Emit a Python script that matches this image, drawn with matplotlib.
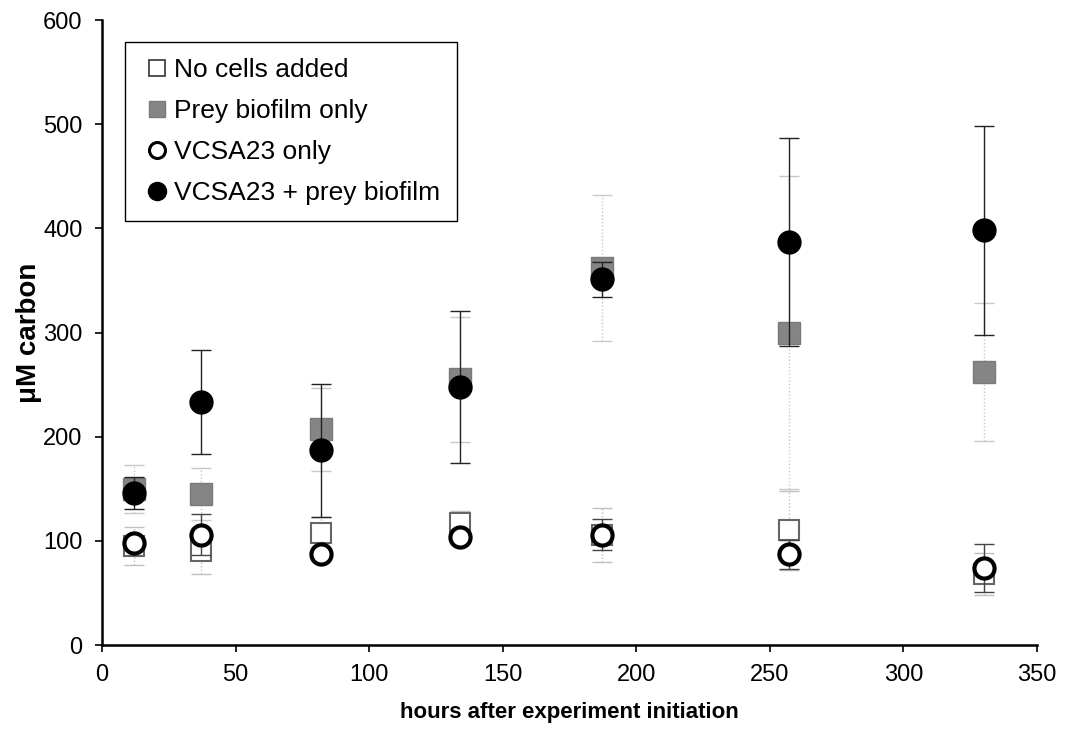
import matplotlib
matplotlib.use("Agg")
import matplotlib.pyplot as plt
from matplotlib.lines import Line2D

plt.rcParams['font.family'] = ['Liberation Sans', 'DejaVu Sans']

hours = [12, 37, 82, 134, 187, 257, 330]

no_cells = [95, 90, 108, 117, 106, 110, 68]
no_cells_err = [18, 22, 15, 12, 26, 38, 20]

prey_only = [150, 145, 207, 255, 362, 300, 262]
prey_only_err = [23, 25, 40, 60, 70, 150, 66]

vcsa_only = [98, 106, 87, 104, 106, 87, 74]
vcsa_only_err = [6, 20, 5, 6, 15, 14, 23]

vcsa_prey = [146, 233, 187, 248, 351, 387, 398]
vcsa_prey_err = [15, 50, 64, 73, 17, 100, 100]

labels = ["No cells added", "Prey biofilm only", "VCSA23 only", "VCSA23 + prey biofilm"]
x_ticks = [0, 50, 100, 150, 200, 250, 300, 350]
y_ticks = [0, 100, 200, 300, 400, 500, 600]

fig = plt.figure(figsize=(10.68, 7.36), dpi=100)
ax = fig.add_axes([0.0955, 0.1236, 0.8755, 0.8492])

def draw(y, err, ecolor, dotted, marker, ms, mfc, mec, mew, z):
    eb = ax.errorbar(hours, y, yerr=err, fmt='none', ecolor=ecolor,
                     elinewidth=1.0, capsize=7, capthick=1.0, zorder=z)
    if dotted:
        for lc in eb[2]:
            lc.set_linestyle((0, (1, 1.5)))
    ax.plot(hours, y, linestyle='none', marker=marker, markersize=ms,
            markerfacecolor=mfc, markeredgecolor=mec, markeredgewidth=mew,
            zorder=z + 0.5)

draw(no_cells, no_cells_err, '#c0c0c0', True, 's', 14.5, 'white', '#666666', 1.5, 2)
draw(prey_only, prey_only_err, '#c8c8c8', True, 's', 15.5, '#858585', '#7a7a7a', 1.0, 3)
draw(vcsa_only, vcsa_only_err, '#444444', False, 'o', 14.5, 'white', 'black', 3.0, 4)
draw(vcsa_prey, vcsa_prey_err, '#222222', False, 'o', 16.5, 'black', 'black', 1.0, 5)

ax.set_xlim(0, 350)
ax.set_ylim(0, 600)
ax.set_xticks(x_ticks)
ax.set_yticks(y_ticks)
ax.tick_params(axis='both', direction='out', length=5, width=1.2, labelsize=17, colors='black')
ax.tick_params(axis='x', pad=9)
ax.tick_params(axis='y', pad=9)
for s in ['top', 'right']:
    ax.spines[s].set_visible(False)
for s in ['left', 'bottom']:
    ax.spines[s].set_linewidth(1.8)
    ax.spines[s].set_color('black')

ax.set_xlabel("hours after experiment initiation", fontsize=16, fontweight='bold', labelpad=11)
ax.set_ylabel("μM carbon", fontsize=20, fontweight='bold', labelpad=1)

handles = [
    Line2D([], [], linestyle='none', marker='s', markersize=12, markerfacecolor='white', markeredgecolor='#333333', markeredgewidth=1.2),
    Line2D([], [], linestyle='none', marker='s', markersize=12, markerfacecolor='#858585', markeredgecolor='#7a7a7a', markeredgewidth=1.0),
    Line2D([], [], linestyle='none', marker='o', markersize=11.5, markerfacecolor='white', markeredgecolor='black', markeredgewidth=2.2),
    Line2D([], [], linestyle='none', marker='o', markersize=13, markerfacecolor='black', markeredgecolor='black'),
]
leg = ax.legend(handles, labels, loc='upper left', bbox_to_anchor=(0.0246, 0.965),
                borderaxespad=0, fontsize=19, frameon=True, fancybox=False,
                handlelength=1.2, handletextpad=0.05, labelspacing=0.64,
                borderpad=0.62, framealpha=1)
leg.get_frame().set_edgecolor('black')
leg.get_frame().set_linewidth(1.0)
fig.savefig("out.png", dpi=100)
